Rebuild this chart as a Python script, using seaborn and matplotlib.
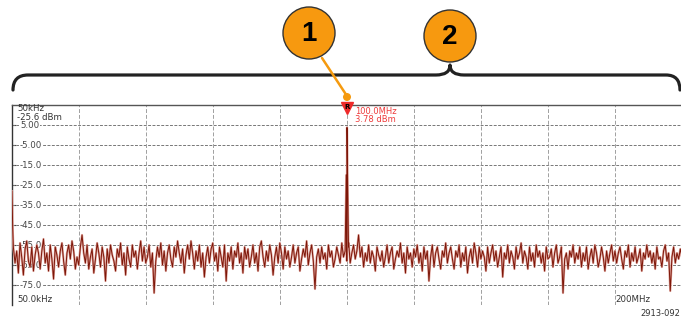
import numpy as np
import matplotlib
matplotlib.use("Agg")
import matplotlib.pyplot as plt
import seaborn as sns
from matplotlib.path import Path
from matplotlib.patches import PathPatch, Circle

sns.set_style("white")
plt.rcParams['font.family'] = ['DejaVu Sans']

# trace data (dBm), one sample every 0.5 MHz
noise_level = [
    -56, -64, -58, -69, -54, -61, -70, -57, -53, -63, -66, -56, -68, -60, -55, -59, -67, -58, -52, -64,
    -59, -68, -55, -62, -72, -56, -60, -66, -58, -54, -63, -70, -59, -55, -62, -53, -58, -67, -61, -65,
    -56, -50, -59, -64, -55, -67, -61, -57, -69, -62, -54, -59, -66, -56, -61, -73, -57, -64, -55, -60,
    -63, -68, -57, -61, -54, -65, -59, -70, -56, -62, -66, -55, -61, -58, -67, -59, -53, -63, -56, -64,
    -61, -55, -66, -59, -79, -63, -56, -61, -54, -65, -58, -68, -59, -55, -62, -66, -56, -61, -53, -59,
    -64, -57, -69, -60, -55, -62, -53, -59, -67, -58, -63, -55, -66, -59, -71, -61, -56, -64, -57, -54,
    -63, -59, -68, -56, -61, -66, -55, -73, -59, -63, -56, -67, -58, -61, -54, -64, -59, -69, -56, -62,
    -57, -66, -61, -55, -64, -59, -68, -56, -53, -61, -66, -58, -63, -55, -60, -70, -61, -56, -64, -54,
    -59, -67, -56, -62, -58, -66, -61, -55, -64, -59, -56, -68, -62, -57, -61, -53, -65, -59, -55, -63,
    -77, -61, -57, -64, -56, -62, -59, -67, -55, -61, -58, -66, -62, -56, -60, -64, -54, -61, -58, -63,
    -56, -64, -59, -55, -62, -58, -50, -61, -56, -66, -59, -63, -55, -64, -58, -61, -68, -56, -60, -63,
    -58, -66, -61, -55, -64, -59, -56, -67, -62, -58, -61, -54, -64, -59, -69, -56, -62, -59, -66, -57,
    -61, -55, -64, -59, -68, -56, -62, -58, -73, -61, -55, -66, -59, -56, -62, -67, -58, -61, -54, -64,
    -59, -56, -62, -67, -58, -61, -55, -66, -59, -63, -56, -69, -61, -57, -64, -54, -59, -66, -56, -62,
    -58, -61, -68, -56, -64, -59, -55, -63, -58, -66, -61, -56, -71, -59, -62, -55, -64, -58, -61, -67,
    -56, -62, -59, -54, -64, -58, -61, -67, -56, -63, -59, -66, -55, -61, -58, -64, -59, -68, -56, -62,
    -61, -57, -66, -59, -55, -64, -61, -56, -79, -62, -59, -67, -58, -61, -55, -64, -59, -62, -56, -66,
    -59, -63, -56, -67, -61, -57, -64, -55, -59, -66, -62, -56, -61, -68, -58, -64, -59, -55, -63, -58,
    -64, -59, -56, -62, -67, -58, -61, -55, -66, -59, -63, -56, -64, -61, -57, -68, -59, -62, -55, -61,
    -58, -64, -59, -67, -56, -62, -61, -66, -58, -55, -63, -59, -78, -61, -56, -64, -59, -62, -57, -61,
]
noise_freq = np.linspace(0.4, 200, len(noise_level))

# carrier at the centre and the LO feedthrough at the left edge
peak_freq = [0.0, 0.2, 99.5, 99.8, 100.0, 100.2, 100.5]
peak_level = [-28, -46, -52, -20, 3.78, -25, -54]

ytick_vals = [5, -5, -15, -25, -35, -45, -55, -65, -75]
ytick_text = ["5.00", "-5.00", "-15.0", "-25.0", "-35.0", "-45.0", "-55.0", "-65.0", "-75.0"]
xgrid_vals = [20, 40, 60, 80, 100, 120, 140, 160, 180]

freq = np.concatenate([noise_freq, peak_freq])
level = np.concatenate([noise_level, peak_level])
order = np.argsort(freq)
freq, level = freq[order], level[order]

W, H = 681, 320
fig = plt.figure(figsize=(W / 100, H / 100), dpi=100)
ax = fig.add_axes([12 / W, 15 / H, 670 / W, 200 / H])
ax.set_xlim(0, 200)
ax.set_ylim(-85, 15)

for s in ["right", "bottom"]:
    ax.spines[s].set_visible(False)
ax.spines["top"].set_color("#555555")
ax.spines["top"].set_linewidth(1.0)
ax.spines["left"].set_color("#333333")
ax.spines["left"].set_linewidth(1.0)

ax.set_xticks([])
ax.set_yticks(ytick_vals)
ax.set_yticklabels([])
ax.tick_params(axis="y", direction="in", length=3, color="#333333", left=True)

for v in ytick_vals:
    ax.axhline(v, color="#777777", lw=0.7, ls=(0, (3, 1.5)), zorder=1)
for v in xgrid_vals:
    ax.axvline(v, color="#a0a0a0", lw=0.7, ls=(0, (4, 2)), zorder=1)

for v, t in zip(ytick_vals, ytick_text):
    ax.text(2.4, v, t, fontsize=6.2, color="#444444", va="center", ha="left",
            bbox=dict(facecolor="white", edgecolor="none", pad=0.6), zorder=2)

sns.lineplot(x=freq, y=level, ax=ax, color="#dfa49c", lw=1.6, zorder=3, sort=False)
sns.lineplot(x=freq, y=level, ax=ax, color="#7d1608", lw=0.7, zorder=4, sort=False)

# reference marker
ax.plot([100], [13.3], marker="v", color="#ee2a2a", markersize=9, zorder=6, clip_on=False)
ax.text(100, 14.2, "R", fontsize=5, color="black", ha="center", va="center",
        fontweight="bold", zorder=7)
ax.text(102.4, 12, "100.0MHz", fontsize=6, color="#ee3b3b", va="center", ha="left")
ax.text(102.4, 8, "3.78 dBm", fontsize=6, color="#ee3b3b", va="center", ha="left")

ax.text(1.5, 13.3, "50kHz", fontsize=6.2, color="#333333", va="center", ha="left")
ax.text(1.5, 8.8, "-25.6 dBm", fontsize=6.2, color="#333333", va="center", ha="left")
ax.text(1.5, -82.5, "50.0kHz", fontsize=6.2, color="#333333", va="center", ha="left")
ax.text(180, -82.5, "200MHz", fontsize=6.2, color="#333333", va="center", ha="left")

# annotation layer in pixel coordinates
ov = fig.add_axes([0, 0, 1, 1], zorder=10)
ov.set_xlim(0, W)
ov.set_ylim(H, 0)
ov.axis("off")
ov.patch.set_alpha(0)

verts = [(13, 90), (13, 75), (28, 75),
         (436, 75),
         (450, 75), (450, 65),
         (450, 75), (464, 75),
         (666, 75),
         (680, 75), (680, 90)]
codes = [Path.MOVETO, Path.CURVE3, Path.CURVE3,
         Path.LINETO,
         Path.CURVE3, Path.CURVE3,
         Path.CURVE3, Path.CURVE3,
         Path.LINETO,
         Path.CURVE3, Path.CURVE3]
ov.add_patch(PathPatch(Path(verts, codes), facecolor="none", edgecolor="#222222",
                       lw=2.3, capstyle="round", joinstyle="round"))

ov.plot([322, 347], [58, 96], color="#f59a0f", lw=1.8, solid_capstyle="round")
ov.add_patch(Circle((347, 97), 4, facecolor="#f59a0f", edgecolor="none"))

for cx, cy, lab in [(309, 33, "1"), (450, 36, "2")]:
    ov.add_patch(Circle((cx, cy), 26, facecolor="#f7990f", edgecolor="#333333", lw=1.0))
    ov.text(cx, cy + 1, lab, fontsize=20, fontweight="bold", color="black",
            ha="center", va="center", family=["Liberation Sans", "DejaVu Sans"])

ov.text(680, 313, "2913-092", fontsize=6, color="#333333", ha="right", va="center")

fig.savefig("out.png", dpi=100)
